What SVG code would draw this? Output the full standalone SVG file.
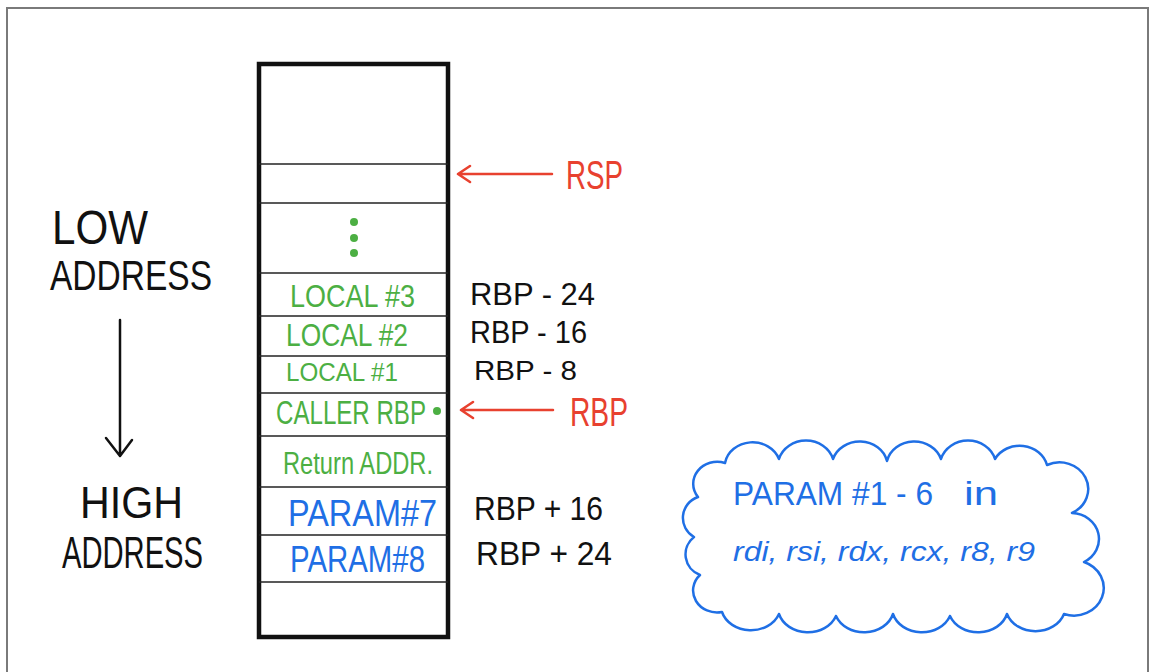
<svg xmlns="http://www.w3.org/2000/svg" width="1151" height="672" viewBox="0 0 1151 672">
<defs>
<style>
.t{font-family:"Liberation Sans",Arial,sans-serif;}
.g{fill:#4caf43;font-size:31px;}
.b{fill:#1f6fe5;font-size:36px;}
.k{fill:#111;font-size:31px;}
.r{fill:#e8412f;font-size:40px;}
.div{stroke:#222;stroke-width:1.6;}
.ra{stroke:#e8412f;stroke-width:2.5;fill:none;stroke-linecap:round;stroke-linejoin:round;}
</style>
</defs>
<rect width="1151" height="672" fill="#fff"/>
<path d="M7,672 V8 H1148 V672" fill="none" stroke="#7a7a7a" stroke-width="2"/>

<g id="stack">
<rect x="259" y="64" width="189" height="573" fill="#fff" stroke="#111" stroke-width="4.5"/>
<line class="div" x1="259" y1="164" x2="448" y2="164"/>
<line class="div" x1="259" y1="203" x2="448" y2="203"/>
<line class="div" x1="259" y1="273" x2="448" y2="273"/>
<line class="div" x1="259" y1="316" x2="448" y2="316"/>
<line class="div" x1="259" y1="356" x2="448" y2="356"/>
<line class="div" x1="259" y1="393" x2="448" y2="393"/>
<line class="div" x1="259" y1="436" x2="448" y2="436"/>
<line class="div" x1="259" y1="487" x2="448" y2="487"/>
<line class="div" x1="259" y1="535" x2="448" y2="535"/>
<line class="div" x1="259" y1="582" x2="448" y2="582"/>
</g>

<g id="cell-dots" fill="#4caf43">
<circle cx="354" cy="222" r="4"/>
<circle cx="354" cy="238" r="4"/>
<circle cx="354" cy="253" r="4"/>
</g>
<g id="cell-local3"><text class="t g" x="290" y="307" textLength="125" lengthAdjust="spacingAndGlyphs">LOCAL #3</text></g>
<g id="cell-local2"><text class="t g" x="286" y="346" textLength="122" lengthAdjust="spacingAndGlyphs">LOCAL #2</text></g>
<g id="cell-local1"><text class="t g" x="286" y="381" textLength="112" lengthAdjust="spacingAndGlyphs" style="font-size:26px">LOCAL #1</text></g>
<g id="cell-caller-rbp"><text class="t g" x="276" y="424" textLength="150" lengthAdjust="spacingAndGlyphs" style="font-size:33px">CALLER RBP</text><circle cx="437" cy="411" r="4" fill="#4caf43"/></g>
<g id="cell-return"><text class="t g" x="283" y="474" textLength="150" lengthAdjust="spacingAndGlyphs" style="font-size:32px">Return ADDR.</text></g>
<g id="cell-param7"><text class="t b" x="288" y="526" textLength="149" lengthAdjust="spacingAndGlyphs">PARAM#7</text></g>
<g id="cell-param8"><text class="t b" x="290" y="572" textLength="135" lengthAdjust="spacingAndGlyphs">PARAM#8</text></g>

<g id="off-m24"><text class="t k" x="470" y="305" textLength="125" lengthAdjust="spacingAndGlyphs">RBP - 24</text></g>
<g id="off-m16"><text class="t k" x="470" y="343" textLength="117" lengthAdjust="spacingAndGlyphs">RBP - 16</text></g>
<g id="off-m8"><text class="t k" x="474" y="380" textLength="103" lengthAdjust="spacingAndGlyphs" style="font-size:28px">RBP - 8</text></g>
<g id="off-p16"><text class="t k" x="474" y="520" textLength="129" lengthAdjust="spacingAndGlyphs" style="font-size:33px">RBP + 16</text></g>
<g id="off-p24"><text class="t k" x="476" y="565" textLength="136" lengthAdjust="spacingAndGlyphs" style="font-size:33px">RBP + 24</text></g>

<g id="rsp-label"><text class="t r" x="566" y="189" textLength="57" lengthAdjust="spacingAndGlyphs">RSP</text></g>
<g id="rbp-label"><text class="t r" x="570" y="426" textLength="58" lengthAdjust="spacingAndGlyphs">RBP</text></g>

<g id="low-address" fill="#111">
<text class="t" x="52" y="244" style="font-size:48px" textLength="96" lengthAdjust="spacingAndGlyphs">LOW</text>
<text class="t" x="50" y="290" style="font-size:42px" textLength="162" lengthAdjust="spacingAndGlyphs">ADDRESS</text>
</g>
<g id="high-address" fill="#111">
<text class="t" x="80" y="518" style="font-size:44px" textLength="103" lengthAdjust="spacingAndGlyphs">HIGH</text>
<text class="t" x="62" y="568" style="font-size:44px" textLength="141" lengthAdjust="spacingAndGlyphs">ADDRESS</text>
</g>

<g id="cloud">
<path d="M725,463 A28,25 0 0 1 779,459 A28,25 0 0 1 833,459 A28,25 0 0 1 887,461 A28,25 0 0 1 941,459 A28,25 0 0 1 995,459 A28,25 0 0 1 1047,465 A28,26 0 0 1 1072,513 A28,26 0 0 1 1084,562 A28,26 0 0 1 1064,614 A30,25 0 0 1 1007,614 A30,25 0 0 1 950,616 A30,25 0 0 1 893,614 A30,25 0 0 1 836,616 A30,25 0 0 1 779,614 A30,25 0 0 1 722,612 A24,22 0 0 1 700,575 A22,22 0 0 1 694,537 A22,22 0 0 1 698,497 A24,22 0 0 1 725,463 Z" fill="#fff" stroke="#1f6fe5" stroke-width="2.5" stroke-linejoin="round"/>
<text class="t" x="733" y="505" fill="#1f6fe5" style="font-size:34px" textLength="200" lengthAdjust="spacingAndGlyphs">PARAM #1 - 6</text>
<text class="t" x="964" y="505" fill="#1f6fe5" style="font-size:34px" textLength="34" lengthAdjust="spacingAndGlyphs">in</text>
<text class="t" x="733" y="561" fill="#1f6fe5" style="font-size:28px;font-style:italic" textLength="302" lengthAdjust="spacingAndGlyphs">rdi, rsi, rdx, rcx, r8, r9</text>
</g>

<g id="connectors">
<path class="ra" d="M552,174 H458 M470,166 L458,174 L470,182"/>
<path class="ra" d="M553,410 H461 M473,402 L461,410 L473,418"/>
<path d="M120,320 V455 M106,438 L120,456 L132,440" fill="none" stroke="#111" stroke-width="2.5" stroke-linecap="round" stroke-linejoin="round"/>
</g>
</svg>
